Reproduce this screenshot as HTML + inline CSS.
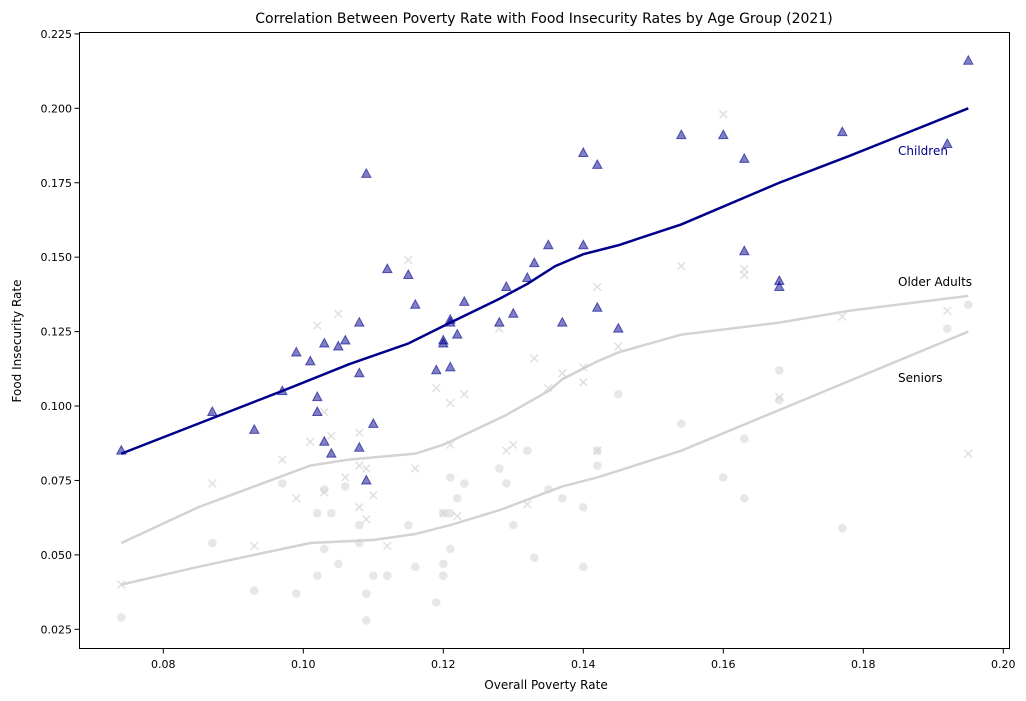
<!DOCTYPE html>
<html><head><meta charset="utf-8"><style>
html,body{margin:0;padding:0;background:#fff;}
svg{display:block;font-family:"DejaVu Sans","Liberation Sans",sans-serif;}
</style></head><body>
<svg id="chart" width="1026" height="701" viewBox="0 0 1026 701">
<rect x="0" y="0" width="1026" height="701" fill="#fff"/>
<text x="544" y="23" text-anchor="middle" font-size="14">Correlation Between Poverty Rate with Food Insecurity Rates by Age Group (2021)</text>
<g id="marks"></g>
<rect x="79.5" y="32.5" width="930" height="616" fill="none" stroke="#000" stroke-width="1"/>
<g id="axes"></g>
<text x="546" y="689" text-anchor="middle" font-size="12">Overall Poverty Rate</text>
<text transform="translate(21,341) rotate(-90)" text-anchor="middle" font-size="12">Food Insecurity Rate</text>
<text x="898" y="155" font-size="12" fill="#00008b">Children</text>
<text x="898" y="286" font-size="12" fill="#000">Older Adults</text>
<text x="898" y="382" font-size="12" fill="#000">Seniors</text>
</svg>
<script>
const xTicks=[0.08,0.10,0.12,0.14,0.16,0.18,0.20];
const xTickLabels=["0.08","0.10","0.12","0.14","0.16","0.18","0.20"];
const yTicks=[0.025,0.05,0.075,0.1,0.125,0.15,0.175,0.2,0.225];
const yTickLabels=["0.025","0.050","0.075","0.100","0.125","0.150","0.175","0.200","0.225"];
const childrenPts=[[0.074,0.085],[0.087,0.098],[0.093,0.092],[0.097,0.105],[0.099,0.118],[0.101,0.115],[0.102,0.103],[0.102,0.098],[0.103,0.121],[0.103,0.088],[0.104,0.084],[0.105,0.120],[0.106,0.122],[0.108,0.111],[0.108,0.128],[0.108,0.086],[0.109,0.178],[0.109,0.075],[0.110,0.094],[0.112,0.146],[0.115,0.144],[0.116,0.134],[0.119,0.112],[0.120,0.122],[0.120,0.121],[0.121,0.129],[0.121,0.128],[0.121,0.113],[0.122,0.124],[0.123,0.135],[0.128,0.128],[0.129,0.140],[0.130,0.131],[0.132,0.143],[0.133,0.148],[0.135,0.154],[0.137,0.128],[0.140,0.185],[0.140,0.154],[0.142,0.181],[0.142,0.133],[0.145,0.126],[0.154,0.191],[0.160,0.191],[0.163,0.183],[0.163,0.152],[0.168,0.142],[0.168,0.140],[0.177,0.192],[0.192,0.188],[0.195,0.216]];
const olderPts=[[0.074,0.040],[0.087,0.074],[0.093,0.053],[0.097,0.082],[0.099,0.069],[0.101,0.088],[0.102,0.127],[0.103,0.098],[0.103,0.071],[0.104,0.090],[0.105,0.131],[0.106,0.076],[0.108,0.091],[0.108,0.080],[0.108,0.066],[0.109,0.079],[0.109,0.062],[0.110,0.070],[0.112,0.053],[0.115,0.149],[0.116,0.079],[0.119,0.106],[0.120,0.064],[0.121,0.101],[0.121,0.087],[0.122,0.063],[0.123,0.104],[0.128,0.126],[0.129,0.085],[0.130,0.087],[0.132,0.067],[0.133,0.116],[0.135,0.106],[0.137,0.111],[0.140,0.108],[0.140,0.113],[0.142,0.140],[0.142,0.085],[0.145,0.120],[0.154,0.147],[0.160,0.198],[0.163,0.144],[0.163,0.146],[0.168,0.103],[0.177,0.130],[0.192,0.132],[0.195,0.084]];
const seniorsPts=[[0.074,0.029],[0.087,0.054],[0.093,0.038],[0.097,0.074],[0.099,0.037],[0.102,0.064],[0.102,0.043],[0.103,0.072],[0.103,0.052],[0.104,0.064],[0.105,0.047],[0.106,0.073],[0.108,0.054],[0.108,0.060],[0.109,0.037],[0.109,0.028],[0.110,0.043],[0.112,0.043],[0.115,0.060],[0.116,0.046],[0.119,0.034],[0.120,0.047],[0.120,0.043],[0.120,0.064],[0.121,0.076],[0.121,0.052],[0.121,0.064],[0.122,0.069],[0.123,0.074],[0.128,0.079],[0.129,0.074],[0.130,0.060],[0.132,0.085],[0.133,0.049],[0.135,0.072],[0.137,0.069],[0.140,0.046],[0.140,0.066],[0.142,0.085],[0.142,0.080],[0.145,0.104],[0.154,0.094],[0.160,0.076],[0.163,0.089],[0.163,0.069],[0.168,0.112],[0.168,0.102],[0.177,0.059],[0.192,0.126],[0.195,0.134]];
const childrenTrend=[[0.074,0.084],[0.098,0.106],[0.1065,0.114],[0.115,0.121],[0.121,0.128],[0.128,0.136],[0.132,0.141],[0.136,0.147],[0.140,0.151],[0.145,0.154],[0.154,0.161],[0.160,0.167],[0.168,0.175],[0.178,0.184],[0.195,0.200]];
const olderTrend=[[0.074,0.054],[0.085,0.066],[0.101,0.080],[0.1065,0.082],[0.116,0.084],[0.120,0.087],[0.129,0.097],[0.135,0.105],[0.137,0.109],[0.142,0.115],[0.145,0.118],[0.154,0.124],[0.168,0.128],[0.178,0.132],[0.195,0.137]];
const seniorsTrend=[[0.074,0.040],[0.085,0.046],[0.101,0.054],[0.110,0.055],[0.116,0.057],[0.121,0.060],[0.128,0.065],[0.137,0.073],[0.142,0.076],[0.154,0.085],[0.195,0.125]];

const NS="http://www.w3.org/2000/svg";
function sx(v){return 163.3+(v-0.08)*7000;}
function sy(v){return 629.3-(v-0.025)*2977;}
const marks=document.getElementById('marks');
const axes=document.getElementById('axes');
function mk(tag,attrs,parent){const e=document.createElementNS(NS,tag);for(const k in attrs)e.setAttribute(k,attrs[k]);parent.appendChild(e);return e;}

xTicks.forEach((t,i)=>{
  const x=sx(t);
  const l=mk('line',{x1:x,x2:x,y1:648.5,y2:653.5,stroke:'#000'},axes);
  
  
  const tx=mk('text',{x:x,y:668,'text-anchor':'middle','font-size':'11'},axes);
  tx.textContent=xTickLabels[i];
  
  
});
yTicks.forEach((t,i)=>{
  const y=sy(t);
  const l=mk('line',{x1:74.5,x2:79.5,y1:y,y2:y,stroke:'#000'},axes);
  
  
  const tx=mk('text',{x:72,y:y+4,'text-anchor':'end','font-size':'11'},axes);
  tx.textContent=yTickLabels[i];
  
  
});

seniorsPts.forEach(p=>{
  const c=mk('circle',{cx:sx(p[0]),cy:sy(p[1]),r:4.3,fill:'#d3d3d3','fill-opacity':0.55},marks);
  
  
});
olderPts.forEach(p=>{
  const x=sx(p[0]),y=sy(p[1]),d=3.8;
  const e=mk('path',{d:`M${x-d},${y-d}L${x+d},${y+d}M${x-d},${y+d}L${x+d},${y-d}`,stroke:'#d3d3d3','stroke-width':1.5,'stroke-opacity':0.7},marks);
  
  
});
function line(pts,color,name){
  const e=mk('polyline',{points:pts.map(p=>sx(p[0])+','+sy(p[1])).join(' '),fill:'none',stroke:color,'stroke-width':2.5},marks);
  
  
}
line(seniorsTrend,'#d3d3d3','seniors-trend-line');
line(olderTrend,'#d3d3d3','older-adults-trend-line');
childrenPts.forEach(p=>{
  const x=sx(p[0]),y=sy(p[1]);
  const e=mk('path',{d:`M${x},${y-5}L${x+4.6},${y+3.5}L${x-4.6},${y+3.5}Z`,fill:'#00008b','fill-opacity':0.5,stroke:'#00008b','stroke-opacity':0.6,'stroke-width':1},marks);
  
  
});
line(childrenTrend,'#00008b','children-trend-line');
</script>
</body></html>
